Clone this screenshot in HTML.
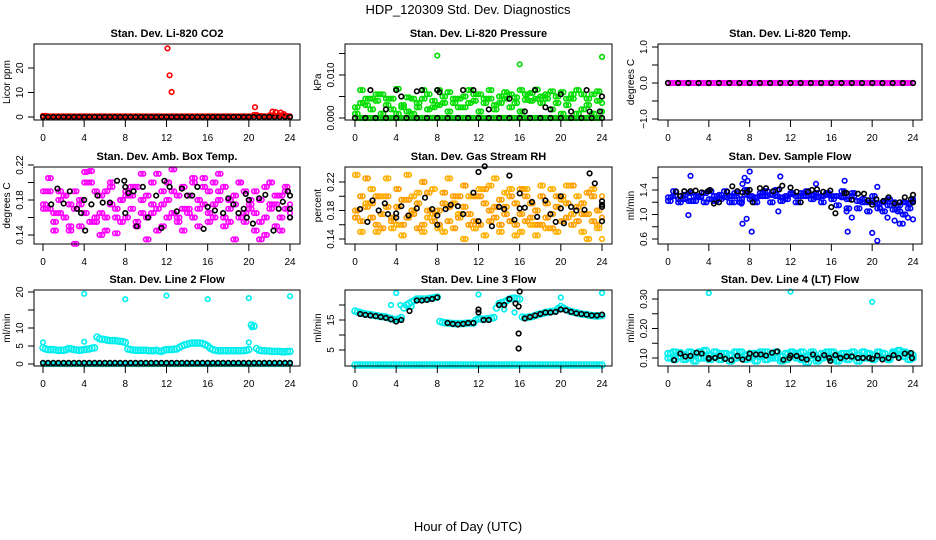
<!DOCTYPE html>
<html><head><meta charset="utf-8"><style>
html,body{margin:0;padding:0;background:#fff;}
svg{display:block;font-family:"Liberation Sans",Arial,sans-serif;}
</style></head><body>
<svg id="chart" width="936" height="540" viewBox="0 0 936 540" xmlns="http://www.w3.org/2000/svg">
<text x="468" y="14" font-size="13" text-anchor="middle">HDP_120309  Std. Dev. Diagnostics</text>
<text x="468" y="531" font-size="13" text-anchor="middle">Hour of Day (UTC)</text>
</svg>
<script>
// ---- shared time grids (hours) ----
const H = [0,0.5,1,1.5,2,2.5,3,3.5,4,4.5,5,5.5,6,6.5,7,7.5,8,8.5,9,9.5,10,10.5,11,11.5,12,12.5,13,13.5,14,14.5,15,15.5,16,16.5,17,17.5,18,18.5,19,19.5,20,20.5,21,21.5,22,22.5,23,23.5,24];
const H2 = [0.25,0.75,1.25,1.75,2.25,2.75,3.25,3.75,4.25,4.75,5.25,5.75,6.25,6.75,7.25,7.75,8.25,8.75,9.25,9.75,10.25,10.75,11.25,11.75,12.25,12.75,13.25,13.75,14.25,14.75,15.25,15.75,16.25,16.75,17.25,17.75,18.25,18.75,19.25,19.75,20.25,20.75,21.25,21.75,22.25,22.75,23.25,23.75];
const X_TICKS = [0,4,8,12,16,20,24];
const ZEROS = [0,0,0,0,0,0,0,0,0,0,0,0,0,0,0,0,0,0,0,0,0,0,0,0,0,0,0,0,0,0,0,0,0,0,0,0,0,0,0,0,0,0,0,0,0,0,0,0,0];

// ---- CO2 ----
const co2Red = [0.5,0.3,0.3,0.3,0.3,0.3,0.3,0.3,0.3,0.3,0.3,0.3,0.3,0.3,0.3,0.3,0.3,0.3,0.3,0.3,0.3,0.3,0.3,0.3,0.3,0.3,0.3,0.3,0.3,0.3,0.3,0.3,0.3,0.3,0.3,0.3,0.3,0.3,0.3,0.3,0.3,0.8,0.4,0.3,0.6,0.5,0.7,0.4,0.3];
const co2OutT = [12.1,12.3,12.5,20.6,22.3,22.6,23.1,23.4];
const co2OutV = [28,17,10.2,4,2.2,2,1.8,1.2];

// ---- Pressure ----
const presA = [0.0025,0.0065,0.003,0.0045,0.004,0.0055,0.0045,0.002,0.0068,0.003,0.0015,0.0045,0.0025,0.0065,0.0055,0.004,0.0065,0.0035,0.006,0.0045,0.0025,0.005,0.0065,0.004,0.0055,0.0045,0.0065,0.003,0.005,0.006,0.0025,0.0048,0.0065,0.0042,0.0058,0.0066,0.005,0.0045,0.0062,0.0035,0.006,0.003,0.0045,0.0065,0.0055,0.003,0.0055,0.0062,0.0035];
const presB = [0.001,0.0035,0.0045,0.002,0.0055,0.001,0.003,0.0045,0.001,0.0025,0.0048,0.001,0.0035,0.0045,0.002,0.0025,0.003,0.005,0.0015,0.0035,0.0045,0.0025,0.0035,0.0055,0.0015,0.0035,0.0045,0.002,0.0035,0.0045,0.0055,0.0035,0.0015,0.0055,0.004,0.0045,0.0035,0.0055,0.002,0.005,0.001,0.0045,0.0055,0.001,0.002,0.0045,0.001,0.004,0.0015];
const presOutT = [8,16,24];
const presOutV = [0.0145,0.0125,0.0142];
const presBlkT = [1.5,4,4.5,3,6.5,6,8,8.2,10.5,11.5,13,17.5,20,22.5,24,23.8,19,15,16.5,18.5,21,22.8];
const presBlkV = [0.0065,0.0065,0.005,0.002,0.0065,0.0062,0.0065,0.006,0.0065,0.0065,0.002,0.0065,0.0055,0.0065,0.005,0.0015,0.002,0.0045,0.0015,0.0025,0.0015,0.0015];

// ---- Ambient box temp ----
const boxA = [0.19,0.17,0.165,0.18,0.16,0.175,0.19,0.15,0.165,0.2,0.16,0.185,0.19,0.175,0.17,0.18,0.16,0.17,0.195,0.165,0.185,0.2,0.17,0.175,0.16,0.19,0.185,0.17,0.165,0.2,0.18,0.175,0.19,0.16,0.18,0.195,0.17,0.185,0.16,0.19,0.175,0.165,0.18,0.195,0.17,0.185,0.16,0.19,0.175];
const boxB = [0.175,0.19,0.155,0.165,0.185,0.15,0.17,0.18,0.2,0.155,0.19,0.165,0.145,0.195,0.16,0.155,0.19,0.185,0.15,0.18,0.16,0.175,0.145,0.19,0.18,0.165,0.155,0.195,0.185,0.16,0.17,0.205,0.155,0.175,0.19,0.16,0.155,0.175,0.2,0.165,0.18,0.19,0.155,0.16,0.175,0.15,0.185,0.17,0.16];
const boxC = [0.17,0.205,0.145,0.19,0.185,0.145,0.13,0.175,0.212,0.213,0.155,0.14,0.16,0.2,0.142,0.18,0.185,0.195,0.155,0.21,0.135,0.165,0.21,0.15,0.2,0.215,0.16,0.145,0.17,0.205,0.15,0.195,0.165,0.2,0.21,0.15,0.18,0.135,0.2,0.155,0.17,0.145,0.135,0.14,0.2,0.175,0.145,0.195,0.165];
const boxBlkT = [0.8,1.4,2,2.6,3.3,3.7,4,4.1,4.7,5.3,5.8,6.5,7.2,7.9,8,8,8.3,8.8,9.1,9.7,10.2,11,11.5,11.8,12.3,13,13.5,14,14.5,15,15.6,16,16.7,17.5,18,18.5,19,19.5,19.7,19.8,20,20.4,21,21.6,22.4,22.9,23.3,23.8,24,24,24];
const boxBlkV = [0.175,0.193,0.176,0.19,0.17,0.165,0.18,0.145,0.175,0.185,0.177,0.177,0.202,0.202,0.195,0.165,0.188,0.19,0.15,0.195,0.16,0.185,0.148,0.202,0.195,0.167,0.193,0.185,0.185,0.195,0.147,0.172,0.168,0.165,0.182,0.175,0.165,0.17,0.187,0.16,0.18,0.153,0.182,0.186,0.145,0.17,0.178,0.19,0.185,0.17,0.16];

// ---- Gas stream RH ----
const rhA = [0.17,0.2,0.185,0.19,0.16,0.175,0.2,0.165,0.185,0.195,0.17,0.18,0.19,0.16,0.205,0.175,0.18,0.19,0.165,0.2,0.17,0.185,0.175,0.2,0.16,0.19,0.18,0.17,0.195,0.185,0.165,0.19,0.175,0.2,0.17,0.18,0.16,0.19,0.175,0.185,0.2,0.17,0.16,0.185,0.19,0.175,0.2,0.18,0.17];
const rhB = [0.18,0.165,0.225,0.17,0.2,0.155,0.185,0.17,0.21,0.16,0.195,0.175,0.155,0.22,0.18,0.165,0.16,0.205,0.185,0.155,0.2,0.215,0.16,0.165,0.2,0.21,0.165,0.185,0.16,0.175,0.2,0.16,0.21,0.165,0.19,0.16,0.2,0.17,0.155,0.2,0.165,0.19,0.215,0.165,0.175,0.205,0.165,0.16,0.2];
const rhC = [0.23,0.15,0.19,0.21,0.15,0.2,0.225,0.155,0.16,0.145,0.23,0.2,0.205,0.15,0.17,0.21,0.155,0.15,0.225,0.19,0.175,0.14,0.2,0.155,0.21,0.145,0.215,0.225,0.15,0.205,0.21,0.145,0.15,0.21,0.16,0.145,0.215,0.155,0.21,0.15,0.195,0.215,0.175,0.2,0.15,0.14,0.21,0.155,0.14];
const rhBlkT = [0.5,1.2,1.7,2.3,2.9,3.2,4,4,4.5,5.2,6,6.8,7.5,8,8,8.8,9.3,10,10.5,11.5,12,12,12.6,13.3,14,14.5,15,15.5,16,16,16.5,17.2,17.7,18.5,19,19.5,20,20,20.3,21,21.5,22.3,22.8,23.3,24,24,24,24];
const rhBlkV = [0.182,0.164,0.194,0.18,0.19,0.175,0.176,0.17,0.186,0.173,0.183,0.198,0.182,0.173,0.16,0.182,0.188,0.186,0.175,0.205,0.234,0.165,0.242,0.158,0.185,0.182,0.229,0.167,0.204,0.183,0.184,0.192,0.171,0.194,0.175,0.164,0.2,0.183,0.162,0.185,0.18,0.181,0.232,0.218,0.188,0.193,0.165,0.185];

// ---- Sample flow ----
const flowA = [1.28,1.3,1.25,1.32,1.22,1.3,1.28,1.35,1.25,1.3,1.32,1.28,1.3,1.35,1.25,1.32,1.3,1.28,1.35,1.3,1.32,1.3,1.28,1.3,1.33,1.3,1.35,1.3,1.32,1.28,1.3,1.32,1.25,1.3,1.28,1.25,1.3,1.22,1.25,1.2,1.2,1.18,1.2,1.15,1.2,1.15,1.2,1.18,1.22];
const flowB = [1.22,1.38,1.2,1.25,1.35,1.22,1.3,1.2,1.38,1.22,1.25,1.38,1.2,1.3,1.2,1.4,1.25,1.2,1.3,1.38,1.2,1.4,1.22,1.25,1.35,1.2,1.3,1.38,1.25,1.35,1.2,1.35,1.3,1.15,1.38,1.1,1.35,1.1,1.2,1.05,1.3,1.1,1.05,1.25,1.08,1.05,1.0,1.1,1.25];
const flowOutT = [2.2,2,7.5,7.8,8,7.3,7.3,7.7,8.2,11,10.8,14.5,17.3,17.6,17.5,18,20,20.5,20.5,20.8,21.5,22.2,22.7,23,23.5,24,6.5,7.2];
const flowOutV = [1.63,0.99,1.6,1.55,1.7,1.5,0.85,0.93,0.72,1.62,1.05,1.5,1.55,0.72,1.05,0.95,0.7,1.45,0.57,1.1,0.95,0.9,0.85,0.85,0.95,0.92,1.2,1.18];
const flowBlkT = [0.8,1.2,1.6,2.2,2.7,3.3,3.9,4.1,4.5,5,5.8,6.3,6.8,7.3,7.8,8,8.3,9,9.6,10.3,10.9,11.2,12,12.6,13,13.7,14.1,14.6,15.2,15.9,16,16.4,17.3,17.5,18,18.6,19.2,19.6,20,20.4,21.1,21.6,22.2,22.7,23.2,23.8,24,24];
const flowBlkV = [1.37,1.3,1.38,1.38,1.39,1.36,1.38,1.4,1.18,1.2,1.37,1.46,1.38,1.36,1.37,1.4,1.2,1.43,1.43,1.38,1.41,1.47,1.44,1.37,1.2,1.37,1.4,1.41,1.37,1.39,1.12,1.02,1.35,1.35,1.24,1.34,1.34,1.23,1.16,1.25,1.22,1.28,1.18,1.2,1.28,1.25,1.32,1.2];

// ---- Line 2 flow ----
const l2Level = [4.5,4,4,3.8,3.8,4.3,4,3.8,4,4.2,4.5,7,6.8,6.5,6.5,6.3,6,4,3.8,3.8,3.8,3.7,3.8,3.5,4,4,4.2,5,5.5,5.8,5.8,5.7,5,4,3.7,3.7,3.7,3.7,3.7,3.7,4,10.5,3.8,3.7,3.6,3.5,3.5,3.4,3.5];
const l2LevelMid = [4.2,4,3.9,3.8,4,4.2,3.9,3.9,4.1,4.4,7.5,6.9,6.6,6.5,6.4,6.2,4.2,3.9,3.8,3.8,3.7,3.7,3.6,3.8,4,4.1,4.6,5.3,5.7,5.8,5.8,5.4,4.4,3.8,3.7,3.7,3.7,3.7,3.7,3.8,10.8,4.3,3.7,3.6,3.5,3.5,3.4,3.5];
const l2Black = [0.3,0.3,0.3,0.3,0.3,0.3,0.3,0.3,0.3,0.3,0.3,0.3,0.3,0.3,0.3,0.3,0.3,0.3,0.3,0.3,0.3,0.3,0.3,0.3,0.3,0.3,0.3,0.3,0.3,0.3,0.3,0.3,0.3,0.3,0.3,0.3,0.3,0.3,0.3,0.3,0.3,0.3,0.3,0.3,0.3,0.3,0.3,0.3,0.3];
const l2OutT = [0,4,4,8,12,16,20,20,20.3,24];
const l2OutV = [6,19.5,6.2,18,19,18,18.3,6,10.2,18.8];

// ---- Line 3 flow ----
const l3Level = [18,17.5,17,16.8,16.5,16.2,16,15.5,15,15.8,20,21,22,22,22,22.3,22.6,14.2,14,13.8,13.8,13.8,14,14,15.5,15.2,15.5,15.8,20.5,21,22,22.3,22,15.8,16,16.5,17,17.5,17.8,18,19.5,18.5,17.8,17.5,17,16.8,16.5,16.3,16.5];
const l3LevelMid = [17.7,17.2,16.9,16.6,16.3,16.1,15.7,15.2,15.4,19,20.5,21.5,22,22,22.2,22.5,14.5,14.1,13.9,13.8,13.8,13.9,14,15,15.3,15.4,15.6,19,20.8,21.5,22.2,22.1,16,15.9,16.2,16.8,17.2,17.6,17.9,18.8,19,18.1,17.6,17.2,16.9,16.6,16.4,16.4];
const l3OutT = [4,4.4,5.5,3.5,12,20,24,14.5,15.5];
const l3OutV = [24,20,19.5,20,23.5,22.5,24,18.5,17.5];
const l3BlkT = [0.5,1,1.5,2,2.5,3,3.5,4,4.5,5.3,6,6.5,7,7.5,8,9,9.5,10,10.5,11,11.5,12,12,12.5,13,14,14.5,15,15.6,16,15.9,15.9,15.9,16.5,17,17.5,18,18.5,19,19.5,20,20.5,21,21.5,22,22.5,23,23.5,24];
const l3BlkV = [17,16.7,16.5,16.3,16,15.7,15.2,14.5,15,18,21.5,21.5,21.7,22,22.5,14,13.7,13.5,13.7,14,14,17.5,18.5,15,15,20,20,22,20.5,24.5,19.5,10.5,5.5,15.5,16,16.5,17,17.5,17.5,17.7,18.5,18.2,17.7,17.2,17,16.8,16.5,16.5,16.8];

// ---- Line 4 (LT) flow ----
const l4A = [0.115,0.12,0.105,0.11,0.1,0.115,0.12,0.1,0.11,0.105,0.115,0.1,0.11,0.12,0.105,0.11,0.1,0.115,0.105,0.12,0.11,0.1,0.105,0.115,0.11,0.1,0.12,0.105,0.11,0.1,0.115,0.105,0.12,0.11,0.1,0.115,0.105,0.11,0.12,0.1,0.11,0.105,0.115,0.1,0.12,0.11,0.105,0.115,0.11];
const l4B = [0.1,0.095,0.118,0.095,0.12,0.09,0.1,0.125,0.095,0.12,0.095,0.115,0.09,0.1,0.12,0.095,0.115,0.09,0.12,0.095,0.1,0.12,0.09,0.095,0.12,0.115,0.095,0.085,0.12,0.09,0.1,0.12,0.095,0.09,0.115,0.095,0.12,0.09,0.1,0.115,0.095,0.12,0.1,0.095,0.115,0.125,0.12,0.095,0.1];
const l4OutT = [4,12,20];
const l4OutV = [0.32,0.325,0.29];
const l4BlkT = [0.6,1.2,1.7,2.2,2.8,3.3,4,4,4.6,5.1,5.6,6.2,6.8,7.3,7.9,8,8.6,9.1,9.6,10.2,10.7,11.3,11.9,12,12.6,13.1,13.6,14.2,14.7,15.3,15.8,15.9,16.4,16.9,17.5,18,18.6,19.1,19.7,20,20.5,21,21.6,22.1,22.6,23.2,23.8,23.9];
const l4BlkV = [0.093,0.115,0.105,0.107,0.118,0.115,0.1,0.097,0.1,0.107,0.097,0.093,0.107,0.095,0.1,0.115,0.112,0.112,0.108,0.118,0.122,0.094,0.1,0.108,0.107,0.1,0.095,0.112,0.098,0.11,0.1,0.09,0.11,0.1,0.105,0.105,0.1,0.1,0.1,0.097,0.108,0.095,0.1,0.11,0.1,0.115,0.117,0.1];

const C_COLS = [{bx0:34,bx1:300,x0:43,x24:290},{bx0:345,bx1:612,x0:355,x24:602},{bx0:658,bx1:922,x0:668,x24:913}];
const C_ROWS = [{by0:44,by1:120},{by0:167,by1:244},{by0:290,by1:366}];

const panels = [
 {name:'co2',title:'Stan. Dev. Li-820 CO2',ylab:'Licor ppm',c:0,r:0,ref:[0,117,20,68],ticks:[0,10,20],labels:['0','10','20'],
  series:[{t:H,v:co2Red,col:'#ff0000'},{t:H2,v:co2Red,col:'#ff0000'},{t:H,v:ZEROS,col:'#000'},{t:co2OutT,v:co2OutV,col:'#ff0000'}]},
 {name:'pressure',title:'Stan. Dev. Li-820 Pressure',ylab:'kPa',c:1,r:0,ref:[0,118,0.01,75],ticks:[0,0.005,0.01,0.015],labels:['0.000','','0.010',''],
  series:[{t:H,v:ZEROS,col:'#00cc00'},{t:H2,v:ZEROS,col:'#00cc00'},{t:H,v:presA,col:'#00dd00'},{t:H,v:presB,col:'#00dd00'},{t:H2,v:presB,col:'#00dd00'},{t:H2,v:presA,col:'#00dd00'},{t:presOutT,v:presOutV,col:'#00dd00'},{t:H,v:ZEROS,col:'#000',step:2},{t:presBlkT,v:presBlkV,col:'#000'}]},
 {name:'temp',title:'Stan. Dev. Li-820 Temp.',ylab:'degrees C',c:2,r:0,ref:[-1,119,1,47],ticks:[-1,-0.5,0,0.5,1],labels:['\u22121.0','','0.0','','1.0'],
  series:[{t:H,v:ZEROS,col:'#ff00ff'},{t:H2,v:ZEROS,col:'#ff00ff'},{t:H,v:ZEROS,col:'#000',step:2}]},
 {name:'box-temp',title:'Stan. Dev. Amb. Box Temp.',ylab:'degrees C',c:0,r:1,ref:[0.14,235,0.22,165],ticks:[0.14,0.16,0.18,0.2,0.22],labels:['0.14','','0.18','','0.22'],
  series:[{t:H,v:boxA,col:'#ff00ff'},{t:H,v:boxB,col:'#ff00ff'},{t:H,v:boxC,col:'#ff00ff'},{t:H2,v:boxB,col:'#ff00ff'},{t:H2,v:boxA,col:'#ff00ff'},{t:H2,v:boxC,col:'#ff00ff'},{t:boxBlkT,v:boxBlkV,col:'#000'}]},
 {name:'rh',title:'Stan. Dev. Gas Stream RH',ylab:'percent',c:1,r:1,ref:[0.14,239,0.22,182],ticks:[0.14,0.16,0.18,0.2,0.22],labels:['0.14','','0.18','','0.22'],
  series:[{t:H,v:rhA,col:'#ff9900'},{t:H,v:rhB,col:'#ffa500'},{t:H,v:rhC,col:'#ffb000'},{t:H2,v:rhB,col:'#ff9900'},{t:H2,v:rhA,col:'#ffa500'},{t:H2,v:rhC,col:'#ffb000'},{t:rhBlkT,v:rhBlkV,col:'#000'}]},
 {name:'sample-flow',title:'Stan. Dev. Sample Flow',ylab:'ml/min',c:2,r:1,ref:[0.6,239,1.4,190],ticks:[0.6,0.8,1.0,1.2,1.4,1.6],labels:['0.6','','1.0','','1.4',''],
  series:[{t:H,v:flowA,col:'#0000ff'},{t:H,v:flowB,col:'#0000ff'},{t:H2,v:flowB,col:'#0000ff'},{t:H2,v:flowA,col:'#0000ff'},{t:flowOutT,v:flowOutV,col:'#0000ff'},{t:flowBlkT,v:flowBlkV,col:'#000'}]},
 {name:'line2-flow',title:'Stan. Dev. Line 2 Flow',ylab:'ml/min',c:0,r:2,ref:[0,364,20,292],ticks:[0,5,10,15,20],labels:['0','5','10','','20'],
  series:[{t:H,v:ZEROS,col:'#00eeee'},{t:H2,v:ZEROS,col:'#00eeee'},{t:H,v:l2Level,col:'#00eeee',r:3},{t:H2,v:l2LevelMid,col:'#00eeee',r:3},{t:l2OutT,v:l2OutV,col:'#00eeee'},{t:H,v:l2Black,col:'#000'}]},
 {name:'line3-flow',title:'Stan. Dev. Line 3 Flow',ylab:'ml/min',c:1,r:2,ref:[5,350,15,320],ticks:[5,10,15,20],labels:['5','','15',''],
  series:[{t:H,v:ZEROS,col:'#00eeee',r:3},{t:H2,v:ZEROS,col:'#00eeee',r:3},{t:H,v:l3Level,col:'#00eeee',r:3},{t:H2,v:l3LevelMid,col:'#00eeee',r:3},{t:l3OutT,v:l3OutV,col:'#00eeee'},{t:l3BlkT,v:l3BlkV,col:'#000'}]},
 {name:'line4-flow',title:'Stan. Dev. Line 4 (LT) Flow',ylab:'ml/min',c:2,r:2,ref:[0.1,358,0.3,299],ticks:[0.1,0.15,0.2,0.25,0.3],labels:['0.10','','0.20','','0.30'],
  series:[{t:H,v:l4A,col:'#00eeee',r:3},{t:H,v:l4B,col:'#00eeee',r:3},{t:H2,v:l4B,col:'#00eeee',r:3},{t:H2,v:l4A,col:'#00eeee',r:3},{t:l4OutT,v:l4OutV,col:'#00eeee'},{t:l4BlkT,v:l4BlkV,col:'#000'}]}
];

const NS='http://www.w3.org/2000/svg';
const svg=document.getElementById('chart');
function mk(tag,attrs,parent){const e=document.createElementNS(NS,tag);for(const k in attrs)e.setAttribute(k,attrs[k]);(parent||svg).appendChild(e);return e;}

panels.forEach(p=>{
  const col=C_COLS[p.c], row=C_ROWS[p.r];
  const xs=t=>col.x0+(t/24)*(col.x24-col.x0);
  const ys=v=>p.ref[1]+(v-p.ref[0])*(p.ref[3]-p.ref[1])/(p.ref[2]-p.ref[0]);
  const g=mk('g',{});
  
  
  const title=mk('text',{x:(col.bx0+col.bx1)/2,y:row.by0-7,'font-size':11,'font-weight':'bold','text-anchor':'middle'},g);
  title.textContent=p.title;
  
  
  const pts=mk('g',{fill:'none','stroke-width':1.6},g);
  
  
  p.series.forEach(s=>{
    const n=Math.min(s.t.length,s.v.length);
    for(let i=0;i<n;i+=(s.step||1)){
      const c=mk('circle',{cx:xs(s.t[i]).toFixed(1),cy:ys(s.v[i]).toFixed(1),r:s.r||2.3,stroke:s.col},pts);
      
      
    }
  });
  const box=mk('rect',{x:col.bx0,y:row.by0,width:col.bx1-col.bx0,height:row.by1-row.by0,fill:'none',stroke:'#000','stroke-width':1},g);
  
  
  X_TICKS.forEach(t=>{
    const x=xs(t);
    mk('line',{x1:x,y1:row.by1,x2:x,y2:row.by1+7,stroke:'#000'},g);
    const tl=mk('text',{x:x,y:row.by1+21,'font-size':10,'text-anchor':'middle'},g);
    tl.textContent=t;
    
    
  });
  p.ticks.forEach((v,i)=>{
    const y=ys(v);
    mk('line',{x1:col.bx0,y1:y,x2:col.bx0-6,y2:y,stroke:'#000'},g);
    if(p.labels[i]){
      const tl=mk('text',{x:col.bx0-11,y:y,'font-size':10,'text-anchor':'middle',transform:`rotate(-90 ${col.bx0-11} ${y})`},g);
      tl.textContent=p.labels[i];
      
      
    }
  });
  const yc=(row.by0+row.by1)/2, yx=col.bx0-24;
  const yl=mk('text',{x:yx,y:yc,'font-size':10,'text-anchor':'middle',transform:`rotate(-90 ${yx} ${yc})`},g);
  yl.textContent=p.ylab;
  
  
});
</script>
</body></html>
